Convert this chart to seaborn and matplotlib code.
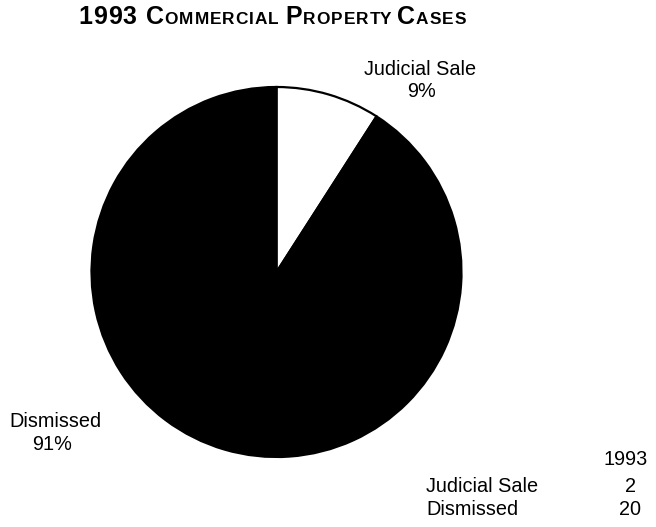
import matplotlib
matplotlib.use("Agg")
import matplotlib.pyplot as plt
import seaborn as sns

# Data
categories = ["Judicial Sale", "Dismissed"]
counts = [2, 20]
pct_labels = ["9%", "91%"]
year = "1993"
title_parts = [("1993 C", "big"), ("OMMERCIAL", "small"), (" ", "small"), ("P", "big"),
               ("ROPERTY", "small"), (" ", "small"), ("C", "big"), ("ASES", "small")]

sns.set_theme(style="white")
plt.rcParams["font.family"] = ["Liberation Sans", "DejaVu Sans"]
plt.rcParams["text.color"] = "black"

W, H = 656, 527
fig = plt.figure(figsize=(W / 100, H / 100), dpi=100)
fig.patch.set_facecolor("white")

def fx(x):
    return x / W

def fy(y):
    return 1 - y / H

# Pie axes: center (276, 272), radius 185 px
cx, cy, r = 276.5, 272, 185
ax = fig.add_axes([fx(cx - r), fy(cy + r), 2 * r / W, 2 * r / H])
ax.pie(counts, colors=["white", "black"], startangle=90, counterclock=False,
       radius=1.0, wedgeprops=dict(edgecolor="black", linewidth=1.6))
ax.set_xlim(-1, 1)
ax.set_ylim(-1, 1)
ax.set_aspect("auto")
ax.axis("off")

fs = 14.3
# Slice labels
fig.text(fx(420), fy(75), categories[0], ha="center", va="baseline", fontsize=fs)
fig.text(fx(421), fy(97), pct_labels[0], ha="center", va="baseline", fontsize=fs)
fig.text(fx(55), fy(427), categories[1], ha="center", va="baseline", fontsize=fs)
fig.text(fx(52), fy(450), pct_labels[1], ha="center", va="baseline", fontsize=fs)

# Table
fig.text(fx(648), fy(465), year, ha="right", va="baseline", fontsize=fs)
fig.text(fx(426), fy(492), categories[0], ha="left", va="baseline", fontsize=fs)
fig.text(fx(630), fy(492), str(counts[0]), ha="center", va="baseline", fontsize=fs)
fig.text(fx(426), fy(515), categories[1], ha="left", va="baseline", fontsize=fs)
fig.text(fx(630), fy(515), str(counts[1]), ha="center", va="baseline", fontsize=fs)

# Title in small caps, placed character by character with slight tracking
renderer = fig.canvas.get_renderer()
sizes = {"big": 18.0, "small": 12.4}
tracking = 1.0

def width_of(s, size):
    t1 = fig.text(0, 0, "a" + s + "a", fontsize=size, fontweight="bold")
    t2 = fig.text(0, 0, "aa", fontsize=size, fontweight="bold")
    w = t1.get_window_extent(renderer).width - t2.get_window_extent(renderer).width
    t1.remove(); t2.remove()
    return w

x = 78.0
for s, kind in title_parts:
    size = sizes[kind]
    for ch in s:
        w = width_of(ch, size)
        if ch.strip():
            fig.text(fx(x), fy(24), ch, ha="left", va="baseline", fontsize=size,
                     fontweight="bold")
        x += w + tracking

fig.savefig("out.png", dpi=100)
